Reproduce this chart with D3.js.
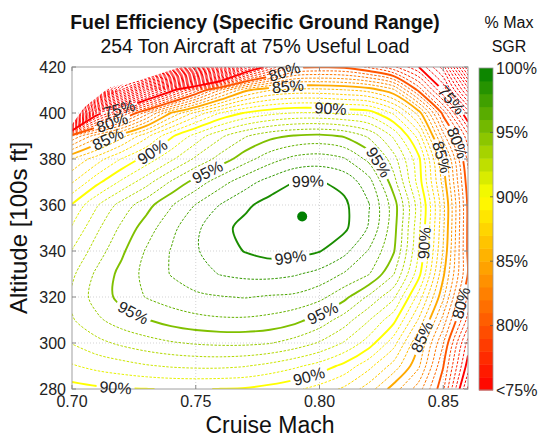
<!DOCTYPE html>
<html>
<head>
<meta charset="utf-8">
<script src="https://cdn.jsdelivr.net/npm/d3@7"></script>
<style>
body { margin: 0; background: #fff; }
text { font-family: "Liberation Sans", Arial, Helvetica, sans-serif; }
</style>
</head>
<body>
<div id="chart"></div>
<script>
const width = 545;
const height = 439;

const machs = [0.70, 0.71, 0.72, 0.73, 0.74, 0.75, 0.76, 0.77, 0.78, 0.79, 0.80, 0.81, 0.82, 0.83, 0.84, 0.85, 0.86];
const altitudes = [280, 290, 300, 310, 320, 330, 340, 350, 360, 370, 380, 390, 400, 410, 420];

// % of max SGR, one row per altitude, columns follow machs (null = no data)
const sgr280 = [89.6, 89.8, 89.92, 89.98, 90.04, 90.04, 89.98, 89.9, 89.6, 89.2, 88.6, 87.8, 86.5, 84.5, 82.5, 79.2, 72.8];
const sgr290 = [90.9, 91.3, 91.6, 91.9, 92.1, 92.2, 92.2, 92.05, 91.7, 91.2, 90.6, 89.7, 88.3, 86.6, 84.2, 80.05, 74.5];
const sgr300 = [92.05, 92.7, 93.2, 93.6, 93.9, 94.1, 94.2, 94.2, 94.05, 93.6, 92.9, 91.9, 90.5, 88.4, 85.1, 81.05, 75.6];
const sgr310 = [92.9, 93.8, 94.5, 94.95, 95.4, 95.7, 95.85, 95.85, 95.7, 95.3, 94.6, 93.5, 92.05, 90.3, 86.9, 82.6, 77.6];
const sgr320 = [93.2, 94.4, 95.3, 96.05, 96.5, 96.8, 96.95, 97.05, 96.9, 96.8, 96.3, 95.3, 93.8, 92.2, 88.6, 84.2, 78.8];
const sgr330 = [92.8, 94.2, 95.3, 96.3, 97.05, 97.6, 98.05, 98.25, 98.3, 98.1, 97.7, 96.9, 96.05, 94.05, 90.4, 85.2, 79.95];
const sgr340 = [92.05, 93.5, 94.8, 96.1, 97.05, 97.9, 98.55, 99.05, 99.35, 99.3, 99.05, 98.3, 96.9, 95.1, 91.05, 85.9, 79.8];
const sgr350 = [91.1, 92.8, 94.2, 95.5, 96.7, 97.8, 98.7, 99.3, 99.8, 99.98, 99.8, 99.2, 97.9, 95.4, 91.3, 86.2, 79.8];
const sgr360 = [90.1, 91.9, 93.4, 94.6, 95.9, 97.05, 98.05, 98.8, 99.4, 99.8, 99.8, 99.2, 98.05, 95.5, 91.5, 86.3, 79.8];
const sgr370 = [87.9, 89.7, 91.2, 92.6, 94.1, 95.4, 96.6, 97.6, 98.4, 99.02, 99.06, 98.7, 97.4, 94.4, 90.6, 85.6, 79.4];
const sgr380 = [86.05, 87.5, 89.05, 90.4, 91.8, 93.2, 94.4, 95.6, 96.6, 97.3, 97.5, 97.1, 95.7, 93.4, 90.3, 84.9, 78.7];
const sgr390 = [81.05, 83.6, 85.6, 87.7, 89.8, 91.4, 92.8, 93.9, 94.7, 95.1, 95.25, 94.9, 93.8, 91.8, 88.6, 82.4, 77.3];
const sgr400 = [null, 74.05, 77.8, 81.5, 85.05, 87.3, 89.05, 90.1, 90.7, 91.05, 91.05, 90.8, 90.5, 88.8, 85.6, 79.6, 73.6];
const sgr410 = [null, null, 64.05, 70.05, 74.3, 78.4, 82.05, 84.7, 85.9, 86.3, 86.3, 86.05, 85.6, 84.2, 79.7, 74.9, 68.5];
const sgr420 = [null, null, null, null, null, 58.05, 64.05, 72.05, 76.05, 79.5, 79.9, 79.8, 78.8, 77.2, 75.05, 71.5, 63.05];
const sgrRows = [sgr280, sgr290, sgr300, sgr310, sgr320, sgr330, sgr340, sgr350,
                 sgr360, sgr370, sgr380, sgr390, sgr400, sgr410, sgr420];
const missingFloor = 55;

// upper-left edge of the data (no solution above it)
const ceilingMach = [0.700, 0.705, 0.712, 0.715, 0.725, 0.744];
const ceilingAlt = [395, 402.5, 408.5, 411, 413.5, 420];

const peakMach = 0.793;
const peakAlt = 355;

const levels = d3.range(missingFloor + 1, 100);
const majorLevels = [75, 80, 85, 90, 95, 99];

// contour labels: level and rough place on the chart
const labelLevel = [75, 80, 85, 90, 95, 80, 85, 90, 95, 99, 99, 75, 80, 85, 90, 95, 90, 95, 90, 85, 80];
const labelMach = [0.7186, 0.7158, 0.7142, 0.7316, 0.7547, 0.7854, 0.7874, 0.8045, 0.8239, 0.7951, 0.7883,
                   0.8530, 0.8559, 0.8490, 0.8437, 0.8012, 0.7955, 0.7247, 0.7174, 0.8409, 0.8571];
const labelAlt = [403.0, 397.0, 388.7, 384.8, 374.3, 418.7, 411.3, 403.9, 378.7, 370.9, 336.1,
                  405.7, 387.0, 380.9, 343.5, 313.0, 285.2, 313.5, 280.9, 302.6, 317.4];

const xTicks = [0.70, 0.75, 0.80, 0.85];
const yTicks = [280, 300, 320, 340, 360, 380, 400, 420];
const barTicks = [100, 95, 90, 85, 80, 75];
const barLabels = ["100%", "95%", "90%", "85%", "80%", "<75%"];
const colorStops = [75, 90, 100];
const colorValues = ["#ff0000", "#ffff00", "#008000"];

const plot = {left: 72, right: 468, top: 67, bottom: 389};
const nx = machs.length;
const ny = altitudes.length;

const x = d3.scaleLinear().domain([machs[0], machs[nx - 1]]).range([plot.left, plot.right]);
const y = d3.scaleLinear().domain([altitudes[0], altitudes[ny - 1]]).range([plot.bottom, plot.top]);
const color = d3.scaleLinear().domain(colorStops).range(colorValues).clamp(true);

// contour grid coordinates -> pixels (sample i sits at i + 0.5)
const gx = d3.scaleLinear().domain([0.5, nx - 0.5]).range([x(machs[0]), x(machs[nx - 1])]);
const gy = d3.scaleLinear().domain([0.5, ny - 0.5]).range([y(altitudes[0]), y(altitudes[ny - 1])]);

const svg = d3.select("#chart")
    .append("svg")
    .attr("width", width)
    .attr("height", height);
const defs = svg.append("defs");

// split contour rings where they run along the grid border
function splitRing(ring) {
    const onBorder = p => p[0] <= 0 || p[0] >= nx || p[1] <= 0 || p[1] >= ny;
    let pts = ring.slice();
    const a = pts[0], b = pts[pts.length - 1];
    if (a[0] === b[0] && a[1] === b[1]) pts.pop();
    const start = pts.findIndex(onBorder);
    if (start < 0) return [{closed: true, pts: pts}];
    const out = [];
    let cur = [];
    for (let k = 1; k <= pts.length; k++) {
        const p = pts[(start + k) % pts.length];
        if (onBorder(p)) {
            if (cur.length > 1) out.push({closed: false, pts: cur});
            cur = [];
        } else {
            cur.push(p);
        }
    }
    if (cur.length > 1) out.push({closed: false, pts: cur});
    return out;
}

const values = sgrRows.flatMap(row => row.map(v => v === null ? missingFloor : v));
const contours = d3.contours().size([nx, ny]).thresholds(levels)(values);

const segments = [];
contours.forEach(c => {
    c.coordinates.forEach(poly => poly.forEach(ring => {
        splitRing(ring).forEach(s => segments.push({level: c.value, closed: s.closed, pts: s.pts}));
    }));
});

const lineOpen = d3.line().x(p => gx(p[0])).y(p => gy(p[1])).curve(d3.curveCatmullRom);
const lineClosed = d3.line().x(p => gx(p[0])).y(p => gy(p[1])).curve(d3.curveCatmullRomClosed);
const isMajor = v => majorLevels.includes(v);

// clip to the data region
const clipPts = [[machs[0], altitudes[0]]]
    .concat(ceilingMach.map((m, i) => [m, ceilingAlt[i]]))
    .concat([[machs[nx - 1], altitudes[ny - 1]], [machs[nx - 1], altitudes[0]]]);
defs.append("clipPath")
    .attr("id", "data-clip")
    .append("path")
    .attr("d", d3.line().x(d => x(d[0])).y(d => y(d[1]))(clipPts) + "Z");

// grid
const grid = svg.append("g")
    .attr("stroke", "#c8c8c8")
    .attr("stroke-width", 0.8)
    .attr("stroke-dasharray", "1,2");
grid.selectAll("line.gx")
    .data(xTicks.slice(1))
    .join("line")
    .attr("x1", d => x(d)).attr("x2", d => x(d))
    .attr("y1", plot.top).attr("y2", plot.bottom);
grid.selectAll("line.gy")
    .data(yTicks.slice(1, -1))
    .join("line")
    .attr("class", "gy")
    .attr("x1", plot.left).attr("x2", plot.right)
    .attr("y1", d => y(d)).attr("y2", d => y(d));

const g = svg.append("g").attr("clip-path", "url(#data-clip)");

g.selectAll("path.minor")
    .data(segments.filter(s => !isMajor(s.level)))
    .join("path")
    .attr("class", "minor")
    .attr("d", s => (s.closed ? lineClosed : lineOpen)(s.pts))
    .attr("fill", "none")
    .attr("stroke", s => color(s.level))
    .attr("stroke-width", 1)
    .attr("stroke-dasharray", "2.5,1.5");

g.selectAll("path.major")
    .data(segments.filter(s => isMajor(s.level)))
    .join("path")
    .attr("class", "major")
    .attr("d", s => (s.closed ? lineClosed : lineOpen)(s.pts))
    .attr("fill", "none")
    .attr("stroke", s => color(s.level))
    .attr("stroke-width", 1.9);

// peak marker
svg.append("circle")
    .attr("cx", x(peakMach))
    .attr("cy", y(peakAlt))
    .attr("r", 5)
    .attr("fill", "#008000");

// frame and ticks
svg.append("rect")
    .attr("x", plot.left).attr("y", plot.top)
    .attr("width", plot.right - plot.left).attr("height", plot.bottom - plot.top)
    .attr("fill", "none").attr("stroke", "#a0a0a0").attr("stroke-width", 1);

const ticks = svg.append("g").attr("stroke", "#888").attr("stroke-width", 1);
xTicks.forEach(t => {
    ticks.append("line").attr("x1", x(t)).attr("x2", x(t)).attr("y1", plot.bottom).attr("y2", plot.bottom - 4);
    ticks.append("line").attr("x1", x(t)).attr("x2", x(t)).attr("y1", plot.top).attr("y2", plot.top + 4);
});
yTicks.forEach(t => {
    ticks.append("line").attr("x1", plot.left).attr("x2", plot.left + 4).attr("y1", y(t)).attr("y2", y(t));
    ticks.append("line").attr("x1", plot.right).attr("x2", plot.right - 4).attr("y1", y(t)).attr("y2", y(t));
});

svg.selectAll("text.xt")
    .data(xTicks)
    .join("text")
    .attr("class", "xt")
    .attr("x", d => x(d))
    .attr("y", 407)
    .attr("text-anchor", "middle")
    .attr("font-size", 16)
    .attr("fill", "#222")
    .text(d => d.toFixed(2));

svg.selectAll("text.yt")
    .data(yTicks)
    .join("text")
    .attr("class", "yt")
    .attr("x", plot.left - 6)
    .attr("y", d => y(d))
    .attr("dy", "0.35em")
    .attr("text-anchor", "end")
    .attr("font-size", 16)
    .attr("fill", "#222")
    .text(d => d);

// contour labels, snapped to the nearest point of their line
function placeLabel(level, m, a) {
    const tx = x(m), ty = y(a);
    let best = null;
    g.selectAll("path.major").filter(s => s.level === level).each(function() {
        const len = this.getTotalLength();
        for (let s = 0; s <= len; s += 1.5) {
            const p = this.getPointAtLength(s);
            const d = (p.x - tx) * (p.x - tx) + (p.y - ty) * (p.y - ty);
            if (!best || d < best.d) best = {d: d, s: s, node: this, p: p};
        }
    });
    if (!best) return null;
    const len = best.node.getTotalLength();
    const p0 = best.node.getPointAtLength(Math.max(0, best.s - 7));
    const p1 = best.node.getPointAtLength(Math.min(len, best.s + 7));
    let angle = Math.atan2(p1.y - p0.y, p1.x - p0.x) * 180 / Math.PI;
    if (angle > 90) angle -= 180;
    if (angle < -90) angle += 180;
    return {x: best.p.x, y: best.p.y, angle: angle};
}

const labels = svg.append("g");
const masks = {};
labelLevel.forEach((lv, i) => {
    const pos = placeLabel(lv, labelMach[i], labelAlt[i]);
    if (!pos) return;
    const tr = `translate(${pos.x},${pos.y}) rotate(${pos.angle})`;
    const t = labels.append("text")
        .attr("transform", tr)
        .attr("text-anchor", "middle")
        .attr("dy", "0.36em")
        .attr("font-size", 16)
        .attr("fill", "#222")
        .text(lv + "%");
    const w = t.node().getComputedTextLength();
    if (!masks[lv]) {
        masks[lv] = defs.append("mask")
            .attr("id", "mask-" + lv)
            .attr("maskUnits", "userSpaceOnUse")
            .attr("x", 0).attr("y", 0).attr("width", width).attr("height", height);
        masks[lv].append("rect")
            .attr("x", 0).attr("y", 0).attr("width", width).attr("height", height)
            .attr("fill", "white");
    }
    masks[lv].append("rect")
        .attr("transform", tr)
        .attr("x", -w / 2 - 3).attr("y", -8)
        .attr("width", w + 6).attr("height", 16)
        .attr("fill", "black");
});
g.selectAll("path.major")
    .filter(s => masks[s.level])
    .attr("mask", s => `url(#mask-${s.level})`);

// colorbar
const bar = {left: 479, width: 14, top: 68, bottom: 390};
const barY = d3.scaleLinear().domain([75, 100]).range([bar.bottom, bar.top]);
svg.selectAll("rect.band")
    .data(d3.range(75, 100))
    .join("rect")
    .attr("class", "band")
    .attr("x", bar.left)
    .attr("y", d => barY(d + 1))
    .attr("width", bar.width)
    .attr("height", d => barY(d) - barY(d + 1) + 0.5)
    .attr("fill", d => color(d + 0.5));
svg.append("rect")
    .attr("x", bar.left).attr("y", bar.top)
    .attr("width", bar.width).attr("height", bar.bottom - bar.top)
    .attr("fill", "none").attr("stroke", "#999").attr("stroke-width", 0.8);
svg.selectAll("line.bt")
    .data(barTicks.slice(1, -1))
    .join("line")
    .attr("class", "bt")
    .attr("x1", bar.left + bar.width - 3).attr("x2", bar.left + bar.width)
    .attr("y1", d => barY(d)).attr("y2", d => barY(d))
    .attr("stroke", "#555").attr("stroke-width", 0.8);
svg.selectAll("text.bl")
    .data(barTicks)
    .join("text")
    .attr("class", "bl")
    .attr("x", bar.left + bar.width + 3)
    .attr("y", d => barY(d))
    .attr("dy", "0.36em")
    .attr("font-size", 16)
    .attr("fill", "#222")
    .text((d, i) => barLabels[i]);

// titles
svg.append("text")
    .attr("x", 255).attr("y", 29)
    .attr("text-anchor", "middle")
    .attr("font-size", 19.4)
    .attr("font-weight", "bold")
    .attr("fill", "#111")
    .text("Fuel Efficiency (Specific Ground Range)");
svg.append("text")
    .attr("x", 255).attr("y", 53)
    .attr("text-anchor", "middle")
    .attr("font-size", 19.4)
    .attr("fill", "#111")
    .text("254 Ton Aircraft at 75% Useful Load");
svg.append("text")
    .attr("x", 509).attr("y", 28)
    .attr("text-anchor", "middle")
    .attr("font-size", 16)
    .attr("fill", "#111")
    .text("% Max");
svg.append("text")
    .attr("x", 509).attr("y", 52)
    .attr("text-anchor", "middle")
    .attr("font-size", 16)
    .attr("fill", "#111")
    .text("SGR");

svg.append("text")
    .attr("x", (plot.left + plot.right) / 2).attr("y", 433)
    .attr("text-anchor", "middle")
    .attr("font-size", 23)
    .attr("fill", "#111")
    .text("Cruise Mach");
svg.append("text")
    .attr("transform", `translate(27,${(plot.top + plot.bottom) / 2}) rotate(-90)`)
    .attr("text-anchor", "middle")
    .attr("font-size", 24)
    .attr("fill", "#111")
    .text("Altitude [100s ft]");
</script>
</body>
</html>
